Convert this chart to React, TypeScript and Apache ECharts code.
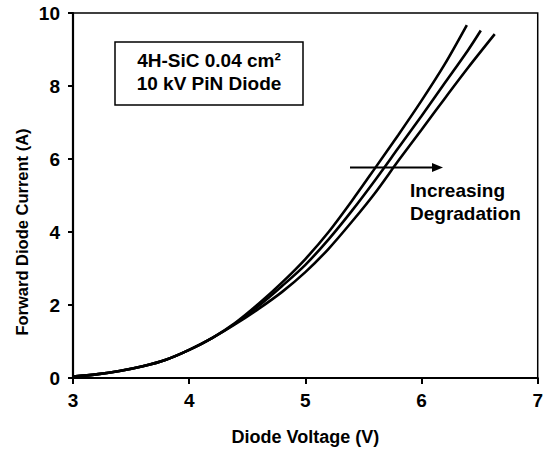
import React, { useEffect, useRef } from "react";
import * as echarts from "echarts";

// Diode voltage (V) / forward current (A) for the three I-V sweeps
const voltage1 = [3.0, 3.2, 3.4, 3.6, 3.8, 4.0, 4.2, 4.4, 4.6, 4.8, 5.0, 5.2, 5.4, 5.6, 5.8, 6.0, 6.2, 6.39];
const current1 = [0.04, 0.1, 0.19, 0.32, 0.5, 0.77, 1.1, 1.52, 2.04, 2.62, 3.26, 4.0, 4.85, 5.75, 6.66, 7.6, 8.6, 9.67];

const voltage2 = [3.0, 3.2, 3.4, 3.6, 3.8, 4.0, 4.2, 4.4, 4.6, 4.8, 5.0, 5.2, 5.4, 5.6, 5.8, 6.0, 6.2, 6.4, 6.51];
const current2 = [0.04, 0.1, 0.19, 0.32, 0.5, 0.77, 1.1, 1.5, 1.98, 2.52, 3.1, 3.8, 4.58, 5.42, 6.3, 7.18, 8.08, 8.98, 9.52];

const voltage3 = [3.0, 3.2, 3.4, 3.6, 3.8, 4.0, 4.2, 4.4, 4.6, 4.8, 5.0, 5.2, 5.4, 5.6, 5.8, 6.0, 6.2, 6.4, 6.63];
const current3 = [0.04, 0.1, 0.19, 0.32, 0.5, 0.77, 1.1, 1.48, 1.9, 2.36, 2.9, 3.54, 4.28, 5.07, 5.95, 6.8, 7.66, 8.5, 9.42];

const xTicks = [3, 4, 5, 6, 7];
const yTicks = [0, 2, 4, 6, 8, 10];

const boxLines = ["4H-SiC 0.04 cm²", "10 kV PiN Diode"];
const noteLines = ["Increasing", "Degradation"];

const FONT = "'Liberation Sans', Arial, Helvetica, sans-serif";

function pairs(xs: number[], ys: number[]) {
  return xs.map((x, i) => [x, ys[i]]);
}

export default function App() {
  const ref = useRef<HTMLDivElement>(null);

  useEffect(() => {
    if (!ref.current) return;
    const chart = echarts.init(ref.current, undefined, { renderer: "svg" });
    const lineSeries = (data: number[][]) => ({
      type: "line",
      data,
      smooth: 0.3,
      showSymbol: false,
      symbol: "none",
      lineStyle: { color: "#000", width: 2.6 },
      z: 3,
    });
    chart.setOption({
      animation: false,
      backgroundColor: "#fff",
      grid: {
        left: 73,
        right: 5,
        top: 13,
        bottom: 73,
        show: true,
        borderColor: "#000",
        borderWidth: 1.5,
        backgroundColor: "transparent",
      },
      xAxis: {
        type: "value",
        min: xTicks[0],
        max: xTicks[xTicks.length - 1],
        interval: 1,
        name: "Diode Voltage (V)",
        nameLocation: "middle",
        nameGap: 50,
        nameTextStyle: { fontFamily: FONT, fontWeight: "bold", fontSize: 18, color: "#000" },
        axisLine: { show: true, lineStyle: { color: "#000", width: 2.2 } },
        axisTick: { show: true, length: 6, lineStyle: { color: "#000", width: 2 } },
        axisLabel: { margin: 13, fontFamily: FONT, fontWeight: "bold", fontSize: 19, color: "#000" },
        splitLine: { show: false },
      },
      yAxis: {
        type: "value",
        min: yTicks[0],
        max: yTicks[yTicks.length - 1],
        interval: 2,
        axisLine: { show: true, lineStyle: { color: "#000", width: 2.2 } },
        axisTick: { show: true, length: 5, lineStyle: { color: "#000", width: 2 } },
        axisLabel: { margin: 13, fontFamily: FONT, fontWeight: "bold", fontSize: 19, color: "#000" },
        splitLine: { show: false },
      },
      series: [
        lineSeries(pairs(voltage1, current1)),
        lineSeries(pairs(voltage2, current2)),
        lineSeries(pairs(voltage3, current3)),
      ],
      graphic: [
        {
          type: "text",
          x: 22,
          y: 232,
          rotation: Math.PI / 2,
          style: {
            text: "Forward Diode Current (A)",
            fontFamily: FONT,
            fontWeight: "bold",
            fontSize: 16.5,
            fill: "#000",
            align: "center",
            verticalAlign: "middle",
          },
        },
        {
          type: "rect",
          shape: { x: 115, y: 42, width: 188, height: 63 },
          style: { fill: "#fff", stroke: "#000", lineWidth: 1.5 },
          z: 5,
        },
        {
          type: "text",
          x: 209,
          y: 60,
          z: 6,
          style: {
            text: boxLines[0],
            fontFamily: FONT,
            fontWeight: "bold",
            fontSize: 19,
            fill: "#000",
            align: "center",
            verticalAlign: "middle",
          },
        },
        {
          type: "text",
          x: 209,
          y: 83.5,
          z: 6,
          style: {
            text: boxLines[1],
            fontFamily: FONT,
            fontWeight: "bold",
            fontSize: 19,
            fill: "#000",
            align: "center",
            verticalAlign: "middle",
          },
        },
        {
          type: "line",
          shape: { x1: 350, y1: 167.5, x2: 434, y2: 167.5 },
          style: { stroke: "#000", lineWidth: 2 },
          z: 6,
        },
        {
          type: "polygon",
          shape: { points: [[432, 163], [443, 167.5], [432, 172]] },
          style: { fill: "#000" },
          z: 6,
        },
        {
          type: "text",
          x: 410,
          y: 190,
          z: 6,
          style: {
            text: noteLines[0],
            fontFamily: FONT,
            fontWeight: "bold",
            fontSize: 19,
            fill: "#000",
            align: "left",
            verticalAlign: "middle",
          },
        },
        {
          type: "text",
          x: 410,
          y: 213.5,
          z: 6,
          style: {
            text: noteLines[1],
            fontFamily: FONT,
            fontWeight: "bold",
            fontSize: 19,
            fill: "#000",
            align: "left",
            verticalAlign: "middle",
          },
        },
      ],
    });
    return () => chart.dispose();
  }, []);

  return (
    <div
      ref={ref}
      style={{ position: "absolute", left: 0, top: 0, width: 546, height: 451, background: "#fff" }}
    />
  );
}
